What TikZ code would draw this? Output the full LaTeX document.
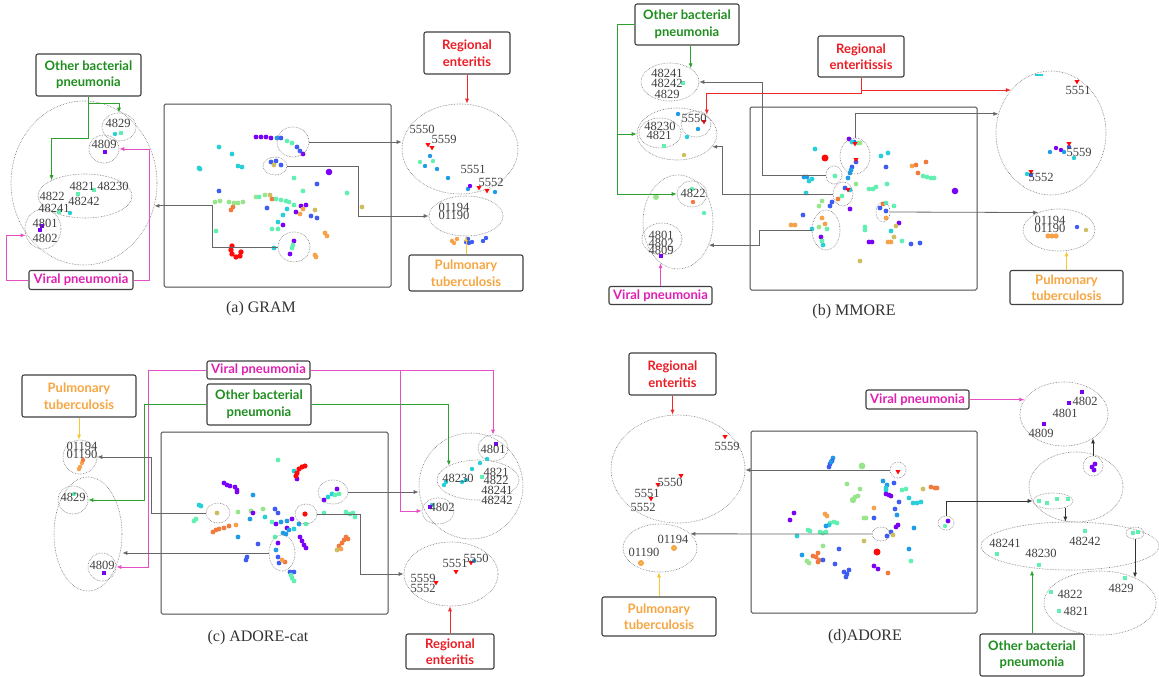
\documentclass[tikz,border=0pt]{standalone}
\usepackage{fontspec}
\setmainfont{Liberation Serif}
\newfontfamily\lblfont{Lato}
\usetikzlibrary{shapes.geometric,arrows.meta}

\definecolor{sP}{HTML}{7A00F6}
\definecolor{sB}{HTML}{3E5CF2}
\definecolor{sL}{HTML}{1E9CE8}
\definecolor{sC}{HTML}{27CFD8}
\definecolor{sA}{HTML}{62F0B2}
\definecolor{sG}{HTML}{98E68C}
\definecolor{sY}{HTML}{CDBE62}
\definecolor{sO}{HTML}{F6A24A}
\definecolor{sR}{HTML}{F27A3C}
\definecolor{sRd}{HTML}{FF0A0A}
\definecolor{tGreen}{HTML}{1E8E1E}
\definecolor{tRed}{HTML}{EC1C24}
\definecolor{tOrange}{HTML}{F7A541}
\definecolor{tMag}{HTML}{E01FB2}
\definecolor{lGreen}{HTML}{2DA02D}
\definecolor{lRed}{HTML}{F02828}
\definecolor{lMag}{HTML}{E64EC4}
\definecolor{lYel}{HTML}{F8C630}

\tikzset{
  sz/.style 2 args={minimum width=#1pt, minimum height=#2pt},
  tag/.style={draw=black!75, line width=1.1pt, rounded corners=2pt, fill=white,
    align=center, inner sep=1pt, font={\fontsize{13}{16.5}\lblfont\bfseries}},
  grp/.style={ellipse, draw=black!55, densely dotted, line width=0.6pt, inner sep=0pt},
  num/.style={inner sep=0pt, text=black!75, font={\fontsize{12.5}{12.5}\selectfont}},
  captxt/.style={inner sep=0pt, text=black!80, font={\fontsize{16}{16}\selectfont}},
  frame/.style={draw=black!70, line width=1pt, rounded corners=1.5pt},
  con/.style={draw=black!60, line width=0.8pt, -{Latex[length=5pt,width=4pt]}},
  dcon/.style={con, draw=black!80},
  gcon/.style={con, draw=lGreen},
  rcon/.style={con, draw=lRed},
  mcon/.style={con, draw=lMag},
  ycon/.style={con, draw=lYel}
}
\newcommand{\sqmark}[3]{\fill[#3] (#1-2,#2-2) rectangle (#1+2,#2+2);}
\newcommand{\trimark}[2]{\fill[sRd] (#1-2.6,#2-2) -- (#1+2.6,#2-2) -- (#1,#2+2.4) -- cycle;}

\begin{document}
\begin{tikzpicture}[x=1pt,y=-1pt]
    \useasboundingbox (0,0) rectangle (1159,677);
    \fill[white] (0,0) rectangle (1159,677);

    % (a) GRAM
    \draw[frame] (164,104) rectangle (391,287);
    \foreach \x/\y/\c in {256/137/sP,261/137/sP,266/137/sP,271/138/sP,277/138/sL,281/138/sB,287/141/sA,292/143/sA,297/147/sB,300/151/sB,303/154/sP,
        219/147/sC,232/154/sC,238/166/sC,242/167/sC,199/168/sC,200/169/sC,271/162/sB,276/161/sB,281/165/sB,274/165/sY,
        317/184/sB,294/178/sA,303/191/sA,347/193/sA,362/207/sY,219/191/sB,215/202/sG,220/201/sG,229/202/sG,234/203/sG,238/203/sG,243/202/sG,
        233/207/sR,231/210/sR,256/197/sG,259/197/sA,265/195/sG,270/195/sY,272/199/sR,276/199/sA,281/200/sA,286/201/sA,289/202/sA,294/205/sA,
        301/206/sP,306/205/sP,303/209/sO,315/210/sY,267/208/sB,287/209/sC,296/212/sP,300/214/sO,311/216/sB,317/218/sB,283/215/sC,278/222/sC,
        283/225/sP,272/229/sA,278/229/sA,216/231/sA,325/233/sO,327/236/sO,315/255/sO,316/257/sO,274/248/sC,294/241/sP,292/248/sA,293/245/sA,290/254/sP}
        \fill[\c] (\x,\y) circle (2.4);
    \fill[sP] (329,172) circle (3.3);
    \foreach \x/\y in {232/246,231/250,232/254,236/257,240/256,241/252}
        \fill[sRd] (\x,\y) circle (2.7);

    \node[grp, sz={146}{164}] (a-big) at (84,183) {};
    \node[grp, sz={34}{28}] (a-4829) at (119,127) {};
    \node[grp, sz={30}{28}] (a-4809) at (104,149) {};
    \node[grp, sz={94}{44}] (a-4822) at (85,196) {};
    \node[grp, sz={36}{40}] (a-4801) at (43,229) {};
    \node[grp, sz={116}{90}] (a-5550) at (460,149) {};
    \node[grp, sz={74}{40}] (a-01194) at (466,216) {};
    \node[grp, sz={32}{30}] (a-c1) at (293,142) {};
    \node[grp, sz={24}{18}] (a-c2) at (275,166) {};
    \node[grp, sz={32}{30}] (a-c3) at (294,247) {};

    \foreach \x/\y/\c in {430/156/sL,425/166/sL,420/162/sA,433/161/sA,437/169/sL,448/178/sL,468/189/sL,495/192/sL,470/186/sP,
        452/241/sO,457/239/sO,454/243/sO,466/242/sB,469/243/sB,472/242/sB,468/239/sB,483/241/sB,486/238/sB,115/134/sC,70/213/sC}
        \fill[\c] (\x,\y) circle (2.2);
    \trimark{428}{145} \trimark{432}{148} \trimark{479}{188} \trimark{487}{191}
    \sqmark{121}{133}{sA} \sqmark{105}{152}{sP} \sqmark{78}{194}{sA} \sqmark{94}{190}{sA} \sqmark{59}{212}{sA} \sqmark{40}{230}{sP} \sqmark{42}{226}{sP}

    \node[num] (a5550) at (422,129) {5550};
    \node[num] (a5559) at (444,139) {5559};
    \node[num] (a5551) at (473,169) {5551};
    \node[num] (a5552) at (491,182) {5552};
    \node[num] (a01194) at (454,207) {01194};
    \node[num] (a01190) at (454,215) {01190};
    \node[num] (a4829) at (118,123) {4829};
    \node[num] (a4809) at (104,144) {4809};
    \node[num] (a4821) at (82,186) {4821};
    \node[num] (a48230) at (113,186) {48230};
    \node[num] (a4822) at (52,196) {4822};
    \node[num] (a48242) at (84,201) {48242};
    \node[num] (a48241) at (54,208) {48241};
    \node[num] (a4801) at (45,223) {4801};
    \node[num] (a4802) at (45,238) {4802};

    \node[tag, text=tGreen, sz={105}{42}] (a-obp) at (88.5,75) {Other bacterial\\pneumonia};
    \node[tag, text=tRed, sz={86}{42}] (a-re) at (467,53) {Regional\\enteritis};
    \node[tag, text=tOrange, sz={114}{36}] (a-pt) at (466,273) {Pulmonary\\tuberculosis};
    \node[tag, text=tMag, sz={104}{19}] (a-vp) at (81,280) {Viral pneumonia};
    \node[captxt] (cap-a) at (261,309) {(a) GRAM};

    \draw[rcon] (a-re.south) -- (a-re.south |- a-5550.north);
    \draw[ycon] (a-pt.north) -- (a-pt.north |- a-01194.south);
    \draw[gcon] (a-obp.south) -- ++(0,7) -| (a-4829.north);
    \draw[gcon] (a-obp.south) -- ++(0,42) -| (a-4822.north west);
    \draw[mcon] (a-vp.west) -- ++(-22,0) |- (a-4801.200);
    \draw[mcon] (a-vp.east) -- ++(16,0) |- (a-4809.east);
    \draw[con] (a-c1.east) -- (a-c1.east -| a-5550.west);
    \draw[con] (a-c2.east) -- ++(71,0) |- (a-01194.west);
    \draw[con] (a-c3.west) -- ++(-65,0) |- (a-big.-18);

    % (b) MMORE
    \draw[frame] (750,107) rectangle (977,290);
    \foreach \x/\y/\c in {849/139/sP,854/142/sB,858/143/sA,852/142/sC,860/143/sG,856/162/sB,852/167/sB,850/173/sL,848/178/sL,851/170/sL,
        815/149/sC,804/177/sL,807/177/sL,809/181/sC,812/179/sC,835/176/sA,806/193/sC,845/188/sB,850/190/sC,856/184/sG,842/196/sA,838/199/sR,
        832/202/sB,822/201/sG,819/206/sG,803/215/sB,830/206/sB,850/209/sP,822/218/sO,825/224/sO,827/229/sA,819/227/sG,812/229/sC,821/237/sP,
        823/245/sC,822/241/sA,791/225/sO,795/225/sO,869/189/sA,873/189/sA,876/187/sA,887/184/sA,881/156/sC,888/153/sC,886/167/sB,
        912/166/sO,916/165/sR,918/173/sR,926/162/sR,923/176/sA,927/177/sA,931/178/sA,934/178/sA,883/204/sR,886/203/sA,880/208/sB,886/211/sB,
        894/206/sA,886/218/sO,899/223/sP,896/226/sY,865/227/sA,865/230/sA,891/231/sC,894/237/sY,891/242/sO,888/242/sO,902/241/sA,911/244/sB,
        920/243/sB,869/242/sP,872/242/sP,860/261/sY}
        \fill[\c] (\x,\y) circle (2.4);
    \fill[sRd] (825,158) circle (3.5);
    \fill[sP] (955,191) circle (3.3);
    \trimark{855}{144} \trimark{856}{160} \trimark{848}{190}

    \node[grp, sz={58}{38}] (b-g1) at (670,82) {};
    \node[grp, sz={80}{52}] (b-g2) at (677,134) {};
    \node[grp, sz={42}{30}] (b-g2a) at (660,133) {};
    \node[grp, sz={30}{26}] (b-g2b) at (696,124) {};
    \node[grp, sz={70}{94}] (b-g3) at (678,222) {};
    \node[grp, sz={30}{26}] (b-g3a) at (692,194) {};
    \node[grp, sz={40}{32}] (b-g3b) at (662,239) {};
    \node[grp, sz={110}{124}] (b-re5) at (1051,133) {};
    \node[grp, sz={72}{42}] (b-tb) at (1059,230) {};
    \node[grp, sz={30}{36}] (b-c1) at (855,156) {};
    \node[grp, sz={16}{18}] (b-c2) at (834,175) {};
    \node[grp, sz={20}{24}] (b-c3) at (843,194) {};
    \node[grp, sz={28}{40}] (b-c4) at (826,230) {};
    \node[grp, sz={14}{20}] (b-c5) at (883,212) {};

    \foreach \x/\y/\c in {678/114/sL,698/129/sL,687/137/sC,684/155/sY,693/202/sR,692/189/sA,704/213/sA,
        1056/148/sP,1050/152/sL,1061/150/sP,1064/152/sL,1069/147/sB,1074/158/sC,1031/175/sB,1027/174/sC,1077/227/sB,1086/230/sY}
        \fill[\c] (\x,\y) circle (2.2);
    \fill[sG] (656,197) circle (3);
    \draw[sC, line width=1.5pt] (1035,75) -- (1043,75);
    \foreach \x in {1048,1052,1056}
        \fill[sO] (\x,236) circle (2.6);
    \trimark{704}{122} \trimark{1077}{82} \trimark{1069}{144} \trimark{1031}{172}
    \sqmark{683}{83}{sA} \sqmark{664}{146}{sA} \sqmark{661}{256}{sP}

    \node[num] (b48241) at (667,73) {48241};
    \node[num] (b48242) at (667,83) {48242};
    \node[num] (b4829) at (667,94) {4829};
    \node[num] (b48230) at (660,126) {48230};
    \node[num] (b4821) at (659,135) {4821};
    \node[num] (b5550) at (694,118) {5550};
    \node[num] (b4822) at (693,193) {4822};
    \node[num] (b4801) at (661,235) {4801};
    \node[num] (b4802) at (661,243) {4802};
    \node[num] (b4809) at (661,250) {4809};
    \node[num] (b5551) at (1078,90) {5551};
    \node[num] (b5559) at (1079,152) {5559};
    \node[num] (b5552) at (1041,177) {5552};
    \node[num] (b01194) at (1050,220) {01194};
    \node[num] (b01190) at (1050,228) {01190};

    \node[tag, text=tGreen, sz={104}{41}] (b-obp) at (687,24.5) {Other bacterial\\pneumonia};
    \node[tag, text=tRed, sz={86}{41}] (b-re) at (861,56.5) {Regional\\enteritissis};
    \node[tag, text=tOrange, sz={113}{34}] (b-pt) at (1066.5,287.5) {Pulmonary\\tuberculosis};
    \node[tag, text=tMag, sz={103}{18}] (b-vp) at (660.5,295.5) {Viral pneumonia};
    \node[captxt] (cap-b) at (854,312) {(b) MMORE};

    \draw[gcon] (b-g1.north east |- b-obp.south) -- (b-g1.north east);
    \draw[gcon] (b-obp.west) -- ++(-17,0) |- (b-g2.west);
    \draw[gcon] (b-obp.west) -- ++(-17,0) |- (b-g3a.west);
    \draw[rcon] (b-re.south) |- (b-re5.133);
    \draw[rcon] (b-re.south) -- ++(0,16) -| (b-g2b.north east);
    \draw[mcon] (b-g3.247 |- b-vp.north) -- (b-g3.247);
    \draw[ycon] (b-pt.north) -- (b-pt.north |- b-tb.south);
    \draw[con] (b-c1.north) |- (b-re5.160);
    \draw[con] (b-c2.west) -- ++(-63,0) |- (b-g1.east);
    \draw[con] (b-c3.west) -- ++(-110,0) |- (b-g2.-20);
    \draw[con] (b-c4.west) -- ++(-52,0) |- (b-g3.-37);
    \draw[con] (b-c5.east) -- (b-tb.140);

    % (c) ADORE-cat
    \draw[frame] (161,432) rectangle (388,614);
    \foreach \x/\y/\c in {278/460/sA,294/471/sC,297/479/sP,224/483/sP,227/485/sP,230/486/sP,235/487/sP,237/490/sP,237/492/sP,
        253/495/sL,199/505/sC,201/506/sC,217/513/sY,194/521/sA,196/519/sA,238/512/sG,251/511/sG,263/509/sG,275/509/sB,278/513/sB,253/513/sP,
        250/519/sL,265/517/sC,272/522/sA,276/524/sP,281/522/sL,287/521/sL,292/519/sP,299/524/sL,306/524/sA,287/528/sP,283/533/sL,294/529/sC,
        289/530/sL,286/534/sL,213/532/sR,216/530/sR,219/529/sR,224/528/sR,229/526/sR,236/525/sO,238/537/sL,258/544/sB,275/537/sA,278/543/sP,
        300/537/sP,302/541/sP,304/545/sP,306/548/sP,324/513/sA,346/512/sA,350/514/sA,353/513/sA,355/517/sA,339/546/sR,342/543/sR,344/540/sR,
        346/537/sR,348/539/sR,337/550/sY,341/549/sO,276/550/sL,278/557/sB,279/563/sB,285/562/sR,282/560/sO,247/557/sB,246/560/sB,290/572/sB,
        294/572/sB,291/575/sA,294/581/sA,292/578/sA,337/489/sP,324/500/sP,328/497/sC,332/494/sC,335/495/sA,339/494/sA}
        \fill[\c] (\x,\y) circle (2.4);
    \foreach \x/\y in {299/469,302/467,305/466,297/473,296/476,305/514}
        \fill[sRd] (\x,\y) circle (2.6);

    \node[grp, sz={34}{34}] (c-tb) at (80,457) {};
    \node[grp, sz={68}{114}] (c-big) at (88,534) {};
    \node[grp, sz={30}{28}] (c-4829) at (73,500) {};
    \node[grp, sz={28}{28}] (c-4809) at (102,567) {};
    \node[grp, sz={104}{106}] (c-rbig) at (471,486) {};
    \node[grp, sz={30}{26}] (c-4801) at (493,448) {};
    \node[grp, sz={82}{40}] (c-48230) at (478,480) {};
    \node[grp, sz={32}{26}] (c-4802) at (438,511) {};
    \node[grp, sz={94}{64}] (c-re5) at (451,574) {};
    \node[grp, sz={30}{24}] (c-c1) at (333,492) {};
    \node[grp, sz={24}{20}] (c-c2) at (218,513) {};
    \node[grp, sz={22}{20}] (c-c3) at (306,514) {};
    \node[grp, sz={26}{36}] (c-c4) at (282,553) {};

    \foreach \x/\y/\c in {82/463/sO,80/467/sO,83/460/sR,79/469/sO,74/494/sA,444/485/sC,446/482/sC,462/482/sC,466/480/sC,472/469/sC,
        480/463/sC,487/459/sC,432/505/sC,474/561/sL}
        \fill[\c] (\x,\y) circle (2.2);
    \sqmark{104}{573}{sP} \sqmark{496}{444}{sP} \sqmark{482}{477}{sA} \sqmark{430}{507}{sP}
    \trimark{471}{563} \trimark{456}{572} \trimark{436}{583}

    \node[num] (c01194) at (82,446) {01194};
    \node[num] (c01190) at (82,454) {01190};
    \node[num] (c4829) at (73,497) {4829};
    \node[num] (c4809) at (102,565) {4809};
    \node[num] (c4801) at (493,449) {4801};
    \node[num] (c48230) at (458,478) {48230};
    \node[num] (c4821) at (496,472) {4821};
    \node[num] (c4822) at (496,480) {4822};
    \node[num] (c48241) at (497,490) {48241};
    \node[num] (c48242) at (497,500) {48242};
    \node[num] (c4802) at (442,507) {4802};
    \node[num] (c5550) at (476,558) {5550};
    \node[num] (c5551) at (455,563) {5551};
    \node[num] (c5559) at (423,578) {5559};
    \node[num] (c5552) at (423,588) {5552};

    \node[tag, text=tOrange, sz={114}{42}] (c-pt) at (79,396) {Pulmonary\\tuberculosis};
    \node[tag, text=tMag, sz={103}{18}] (c-vp) at (258.5,370) {Viral pneumonia};
    \node[tag, text=tGreen, sz={104}{41}] (c-obp) at (259,404.5) {Other bacterial\\pneumonia};
    \node[tag, text=tRed, sz={88}{35}] (c-re) at (450,651.5) {Regional\\enteritis};
    \node[captxt] (cap-c) at (258,638) {(c) ADORE-cat};

    \draw[ycon] (c-pt.south) -- (c-pt.south |- c-tb.north);
    \draw[mcon] (c-vp.west) -- ++(-58,0) |- (c-4809.east);
    \draw[mcon] (c-vp.east) -| (c-4801.north);
    \draw[mcon] (c-vp.east) -- ++(90,0) |- (c-4802.west);
    \draw[gcon] (c-obp.west) -- ++(-62,0) |- (c-4829.east);
    \draw[gcon] (c-obp.east) -| (c-48230.north west);
    \draw[rcon] (c-re.north) -- (c-re.north |- c-re5.south);
    \draw[con] (c-c1.east) -- (c-c1.east -| c-rbig.west);
    \draw[con] (c-c2.west) -- ++(-54,0) |- (c-tb.east);
    \draw[con] (c-c3.east) -- ++(43,0) |- (c-re5.west);
    \draw[con] (c-c4.west) -- (c-c4.west -| c-big.east);

    % (d) ADORE
    \draw[frame] (751,431) rectangle (977,613);
    \foreach \x/\y/\c in {833/458/sL,832/461/sB,830/464/sB,829/467/sB,831/462/sL,847/484/sG,860/489/sG,858/496/sG,855/497/sG,
        883/481/sL,887/485/sL,886/488/sC,886/490/sC,886/494/sP,889/495/sP,891/496/sP,894/483/sB,902/490/sA,906/489/sA,909/498/sC,913/503/sC,
        917/503/sC,921/502/sC,923/489/sY,931/487/sR,935/488/sR,937/488/sR,794/513/sP,790/520/sP,825/514/sO,827/516/sO,837/523/sA,834/522/sA,
        830/523/sA,829/525/sC,826/526/sL,874/508/sO,864/518/sG,866/518/sG,874/518/sB,895/509/sB,899/502/sB,897/515/sL,898/525/sP,896/527/sP,
        891/532/sB,887/536/sB,893/535/sY,914/528/sL,808/530/sA,810/531/sA,820/532/sA,823/533/sA,826/532/sA,797/536/sC,864/541/sY,823/546/sG,
        839/549/sB,909/549/sL,911/561/sA,818/553/sR,816/557/sR,819/560/sR,813/556/sR,818/562/sR,802/555/sL,807/561/sG,809/563/sG,823/560/sB,
        835/564/sB,847/574/sB,844/572/sB,849/570/sB,846/577/sB,874/566/sP,878/569/sP,888/573/sR}
        \fill[\c] (\x,\y) circle (2.4);
    \fill[sG] (862,466) circle (3.4);
    \fill[sG] (853,500) circle (3.2);
    \fill[sRd] (877,552) circle (3.5);
    \trimark{898}{472}

    \node[grp, sz={134}{108}] (d-re5) at (678,469) {};
    \node[grp, sz={74}{48}] (d-tb) at (660,548) {};
    \node[grp, sz={88}{64}] (d-vir) at (1064,414) {};
    \node[grp, sz={94}{70}] (d-mid) at (1076,487) {};
    \node[grp, sz={20}{20}] (d-mid1) at (1093,466) {};
    \node[grp, sz={40}{16}] (d-mid2) at (1053,501) {};
    \node[grp, sz={178}{48}] (d-low) at (1070,546) {};
    \node[grp, sz={18}{12}] (d-low1) at (1135,533) {};
    \node[grp, sz={112}{64}] (d-br) at (1100,603) {};
    \node[grp, sz={16}{16}] (d-c1) at (898,470) {};
    \node[grp, sz={18}{14}] (d-c2) at (881,534) {};
    \node[grp, sz={16}{14}] (d-c3) at (946,523) {};

    \trimark{725}{437} \trimark{681}{476} \trimark{658}{485} \trimark{651}{499}
    \fill[sO] (674,548) circle (3); \fill[lYel] (674,548) circle (1.3);
    \fill[sO] (641,563) circle (3); \fill[lYel] (641,563) circle (1.3);
    \foreach \x/\y in {1092/467,1095/464,1094/470,948/521}
        \fill[sP] (\x,\y) circle (2.4);
    \fill[sA] (945,526) circle (2.2);
    \sqmark{1082}{392}{sP} \sqmark{1069}{403}{sP} \sqmark{1044}{424}{sP}
    \sqmark{1039}{501}{sA} \sqmark{1047}{503}{sA} \sqmark{1057}{499}{sA} \sqmark{1068}{499}{sA}
    \sqmark{1085}{531}{sA} \sqmark{997}{554}{sA} \sqmark{1039}{565}{sA} \sqmark{1133}{533}{sA} \sqmark{1138}{532}{sA}
    \sqmark{1125}{578}{sA} \sqmark{1051}{592}{sA} \sqmark{1059}{611}{sA}

    \node[num] (d5559) at (727,446) {5559};
    \node[num] (d5550) at (670,482) {5550};
    \node[num] (d5551) at (647,493) {5551};
    \node[num] (d5552) at (643,507) {5552};
    \node[num] (d01194) at (673,539) {01194};
    \node[num] (d01190) at (644,552) {01190};
    \node[num] (d4802) at (1085,401) {4802};
    \node[num] (d4801) at (1065,413) {4801};
    \node[num] (d4809) at (1041,433) {4809};
    \node[num] (d48241) at (1005,543) {48241};
    \node[num] (d48230) at (1041,553) {48230};
    \node[num] (d48242) at (1085,541) {48242};
    \node[num] (d4829) at (1121,588) {4829};
    \node[num] (d4822) at (1070,594) {4822};
    \node[num] (d4821) at (1076,611) {4821};

    \node[tag, text=tRed, sz={87}{42}] (d-re) at (672.5,374) {Regional\\enteritis};
    \node[tag, text=tOrange, sz={114}{39}] (d-pt) at (659,616.5) {Pulmonary\\tuberculosis};
    \node[tag, text=tMag, sz={103}{19}] (d-vp) at (917.5,399.5) {Viral pneumonia};
    \node[tag, text=tGreen, sz={104}{42}] (d-obp) at (1032,655) {Other bacterial\\pneumonia};
    \node[captxt] (cap-d) at (865,637) {(d)ADORE};

    \draw[rcon] (d-re.south) -- (d-re.south |- d-re5.north);
    \draw[ycon] (d-pt.north) -- (d-pt.north |- d-tb.south);
    \draw[mcon] (d-vp.east) -- (d-vir.160);
    \draw[gcon] (d-obp.north) -- (d-obp.north |- d-low.south);
    \draw[dcon] (d-mid1.north) -- (d-mid1.north |- d-vir.-40);
    \draw[dcon] (d-mid2.-28) -- (d-mid2.-28 |- d-low.north);
    \draw[dcon] (d-low1.south) -- (d-low1.south |- d-br.36);
    \draw[con] (d-c1.west) -- (d-c1.west -| d-re5.east);
    \draw[con] (d-c2.west) -- (d-tb.25);
    \draw[dcon] (d-c3.north) |- (d-mid2.west);
\end{tikzpicture}
\end{document}
